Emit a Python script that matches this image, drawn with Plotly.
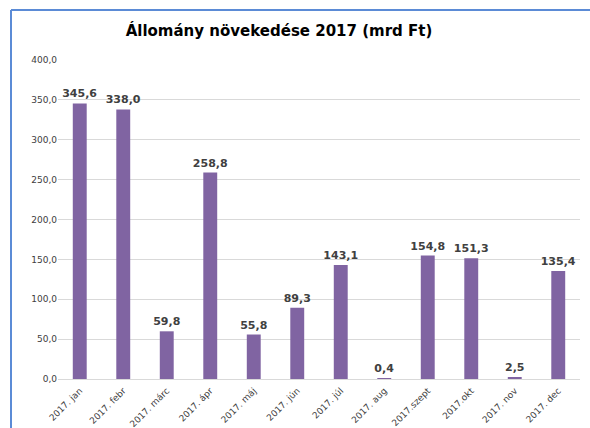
import plotly.graph_objects as go

categories = ["2017. jan", "2017. febr", "2017. márc", "2017. ápr", "2017. máj", "2017. jún",
              "2017. júl", "2017. aug", "2017.szept", "2017.okt", "2017. nov", "2017. dec"]
values = [345.6, 338.0, 59.8, 258.8, 55.8, 89.3, 143.1, 0.4, 154.8, 151.3, 2.5, 135.4]
y_ticks = [0, 50, 100, 150, 200, 250, 300, 350, 400]

W, H = 590, 428
ml, mr, mt, mb = 58, 10, 60, 49
pw = W - ml - mr
ph = H - mt - mb

def px_x(x):
    return (x - ml) / pw

def px_y(y):
    return (H - mb - y) / ph

fig = go.Figure(go.Bar(
    x=categories, y=values,
    marker=dict(color="#8064A2", line=dict(width=0)),
    texttemplate="<b>%{y:.1f}</b>", textposition="outside",
    constraintext="none", textangle=0,
    textfont=dict(family="DejaVu Sans", size=11, color="#404040"),
    outsidetextfont=dict(family="DejaVu Sans", size=11, color="#404040"),
    cliponaxis=False,
))

fig.update_layout(
    width=W, height=H,
    margin=dict(l=ml, r=mr, t=mt, b=mb),
    paper_bgcolor="white", plot_bgcolor="white",
    separators=",.",
    bargap=0.68,
    showlegend=False,
    title=dict(text="<b>Állomány növekedése 2017 (mrd Ft)</b>", x=279 / W, xref="container",
               xanchor="center", y=1 - 31 / H, yanchor="middle",
               font=dict(family="DejaVu Sans", size=15, color="black")),
    xaxis=dict(tickangle=-45, tickfont=dict(family="DejaVu Sans", size=9, color="#404040"),
               showline=True, linecolor="#D9D9D9", linewidth=1, showgrid=False,
               ticks="outside", ticklen=2, tickcolor="rgba(0,0,0,0)",
               automargin=False),
    yaxis=dict(range=[0, 400], tickvals=y_ticks, tickformat=".1f",
               tickfont=dict(family="DejaVu Sans", size=9, color="#404040"),
               showgrid=True, gridcolor="#D9D9D9", gridwidth=1, zeroline=False,
               showline=False, ticks="", ticklen=0, automargin=False),
    shapes=[
        dict(type="line", xref="paper", yref="paper", x0=px_x(11), x1=px_x(W + 5),
             y0=px_y(10), y1=px_y(10), line=dict(color="#5B8BD6", width=2)),
        dict(type="line", xref="paper", yref="paper", x0=px_x(11), x1=px_x(11),
             y0=px_y(10), y1=px_y(H + 5), line=dict(color="#5B8BD6", width=2)),
    ],
)

fig.write_html("out.html", config={"displayModeBar": False},
               post_script="document.body.style.margin='0';document.body.style.overflow='hidden';")
